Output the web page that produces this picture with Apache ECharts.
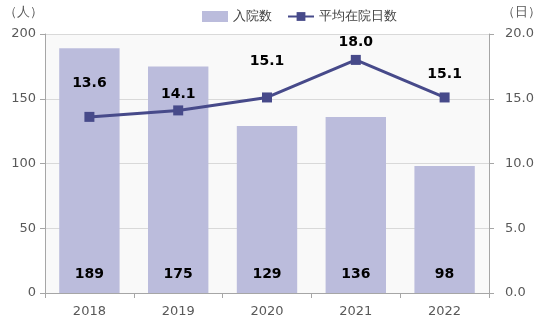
<!DOCTYPE html>
<html><head><meta charset="utf-8">
<script src="https://cdn.jsdelivr.net/npm/echarts@6/dist/echarts.min.js"></script>
<style>html,body{margin:0;padding:0;background:#fff}#c{width:541px;height:330px}</style>
</head><body><div id="c"></div>
<script>
const categories = ['2018','2019','2020','2021','2022'];
const admissions = [189,175,129,136,98];
const avgStay = [13.6,14.1,15.1,18.0,15.1];
const leftTicks = [0,50,100,150,200];
const rightTicks = [0.0,5.0,10.0,15.0,20.0];
const lineLabelDist = [22,4,24,6,11];

const font = '"DejaVu Sans", Verdana, sans-serif';
const chart = echarts.init(document.getElementById('c'));
chart.setOption({
  animation:false,
  textStyle:{fontFamily:font},
  legend:{top:5,left:197,itemGap:15,itemWidth:26,itemHeight:11,
    textStyle:{fontFamily:font,fontSize:13,color:'#404040'},
    data:[{name:'入院数',icon:'rect'},{name:'平均在院日数'}]},
  grid:{left:45,right:52,top:34,bottom:37,show:true,backgroundColor:'#f9f9f9',borderWidth:0,
    containLabel:false,outerBoundsMode:'none'},
  xAxis:{type:'category',data:categories,
    axisLine:{lineStyle:{color:'#a6a6a6'}},axisTick:{show:true,lineStyle:{color:'#a6a6a6'}},
    axisLabel:{color:'#595959',fontSize:13,fontFamily:font,margin:12}},
  yAxis:[
    {type:'value',min:leftTicks[0],max:leftTicks[leftTicks.length-1],interval:50,
     name:'（人）',nameGap:15,nameTextStyle:{color:'#595959',fontSize:13,fontFamily:font,align:'center',padding:[0,44,0,0]},
     axisLine:{show:true,lineStyle:{color:'#a6a6a6'}},axisTick:{show:true,length:5,lineStyle:{color:'#a6a6a6'}},
     axisLabel:{color:'#595959',fontSize:13,fontFamily:font,margin:9},
     splitLine:{lineStyle:{color:'#d9d9d9'}}},
    {type:'value',min:rightTicks[0],max:rightTicks[rightTicks.length-1],interval:5,
     name:'（日）',nameGap:15,nameTextStyle:{color:'#595959',fontSize:13,fontFamily:font,align:'center',padding:[0,0,0,64]},
     axisLine:{show:true,lineStyle:{color:'#a6a6a6'}},axisTick:{show:true,length:5,lineStyle:{color:'#a6a6a6'}},
     axisLabel:{color:'#595959',fontSize:13,fontFamily:font,margin:16,formatter:v=>v.toFixed(1)},
     splitLine:{show:false}}
  ],
  series:[
    {name:'入院数',type:'bar',data:admissions,barWidth:'68%',itemStyle:{color:'#bbbcdc'},
     label:{show:true,position:'insideBottom',distance:12,color:'#000',fontWeight:'bold',fontSize:14,fontFamily:font}},
    {name:'平均在院日数',type:'line',yAxisIndex:1,
     data:avgStay.map((v,i)=>({value:v,label:{distance:lineLabelDist[i]}})),
     symbol:'rect',symbolSize:10,lineStyle:{color:'#474a8a',width:3},itemStyle:{color:'#474a8a'},
     label:{show:true,position:'top',color:'#000',fontWeight:'bold',fontSize:14,fontFamily:font,formatter:p=>p.value.toFixed(1)}}
  ]
});
</script></body></html>
